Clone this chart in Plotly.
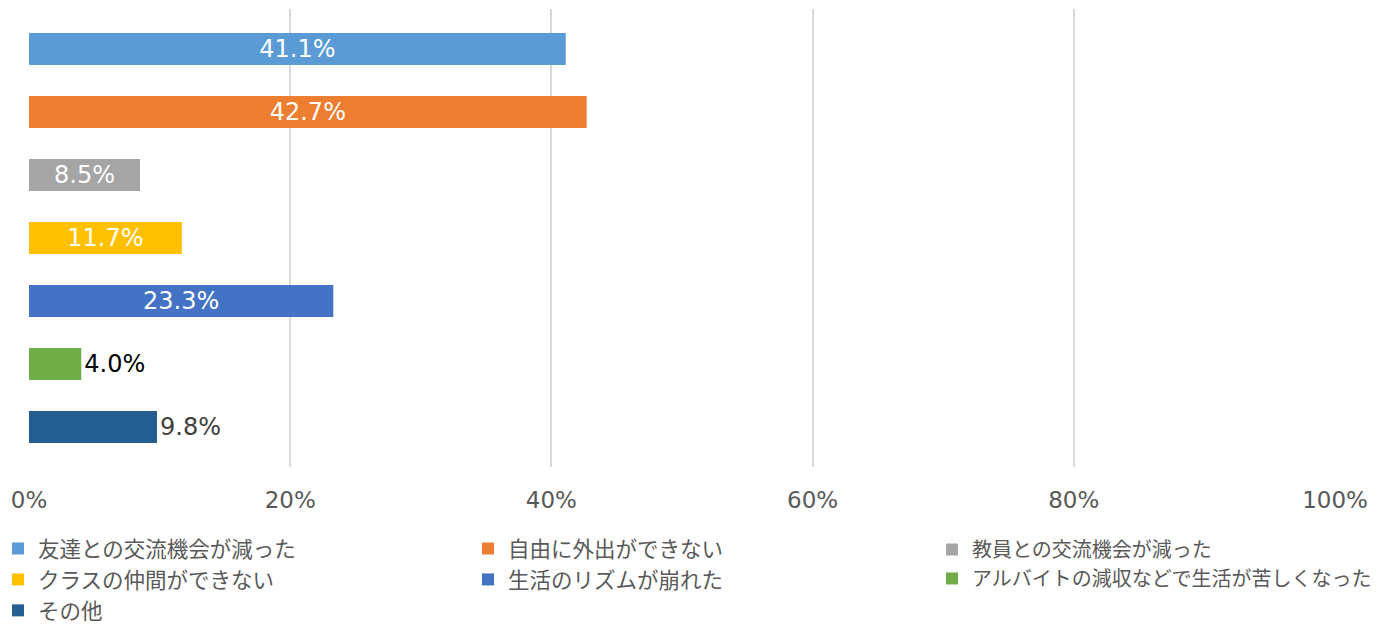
import plotly.graph_objects as go

categories = [
    "友達との交流機会が減った",
    "自由に外出ができない",
    "教員との交流機会が減った",
    "クラスの仲間ができない",
    "生活のリズムが崩れた",
    "アルバイトの減収などで生活が苦しくなった",
    "その他",
]
values = [41.1, 42.7, 8.5, 11.7, 23.3, 4.0, 9.8]
colors = ["#5B9BD5", "#ED7D31", "#A5A5A5", "#FFC000", "#4472C4", "#70AD47", "#255E91"]
label_inside = [True, True, True, True, True, False, False]
outside_label_colors = ["#000000", "#000000", "#000000", "#000000", "#000000", "#000000", "#404040"]
tick_values = [0, 20, 40, 60, 80, 100]
tick_labels = ["0%", "20%", "40%", "60%", "80%", "100%"]

# legend laid out in three columns, filled row by row
legend_ids = ["legend", "legend2", "legend3"]

fig = go.Figure()
for i, (cat, val, col) in enumerate(zip(categories, values, colors)):
    inside = label_inside[i]
    fig.add_trace(go.Bar(
        name=cat,
        x=[val],
        y=[i],
        orientation="h",
        width=0.508,
        marker=dict(color=col, line=dict(width=0)),
        text=[f"{val:.1f}%"],
        textposition="inside" if inside else "outside",
        insidetextanchor="middle",
        textangle=0,
        cliponaxis=False,
        textfont=dict(family="DejaVu Sans", size=24,
                      color="#FFFFFF" if inside else outside_label_colors[i]),
        hoverinfo="skip",
        legend=legend_ids[i % 3],
    ))

plot_left, plot_width = 29, 1306
plot_bottom, plot_height = 467, 458


def legend_box(left_px, top_px, size=21.5):
    return dict(
        orientation="v",
        x=(left_px - plot_left) / plot_width,
        xanchor="left",
        y=-(top_px - plot_bottom) / plot_height,
        yanchor="top",
        traceorder="normal",
        font=dict(family="Noto Sans CJK JP", size=size, color="#595959"),
        itemwidth=30,
        bgcolor="rgba(0,0,0,0)",
        borderwidth=0,
    )


fig.update_layout(
    width=1384,
    height=624,
    margin=dict(l=29, r=49, t=9, b=157, autoexpand=False),
    paper_bgcolor="#FFFFFF",
    plot_bgcolor="#FFFFFF",
    barmode="overlay",
    uniformtext=dict(minsize=24, mode="show"),
    showlegend=True,
    legend=legend_box(-2, 528),
    legend2=legend_box(468, 528),
    legend3=legend_box(932, 530, size=20),
    xaxis=dict(
        range=[0, 100],
        tickvals=tick_values,
        ticktext=tick_labels,
        showgrid=True,
        gridcolor="#D9D9D9",
        gridwidth=2,
        zeroline=False,
        showline=False,
        ticks="",
        ticklabelstandoff=17,
        tickfont=dict(family="DejaVu Sans", size=23, color="#595959"),
        fixedrange=True,
    ),
    yaxis=dict(
        range=[6.635, -0.635],
        showticklabels=False,
        showgrid=False,
        zeroline=False,
        showline=False,
        ticks="",
        fixedrange=True,
    ),
)

fig.write_html("out.html")
